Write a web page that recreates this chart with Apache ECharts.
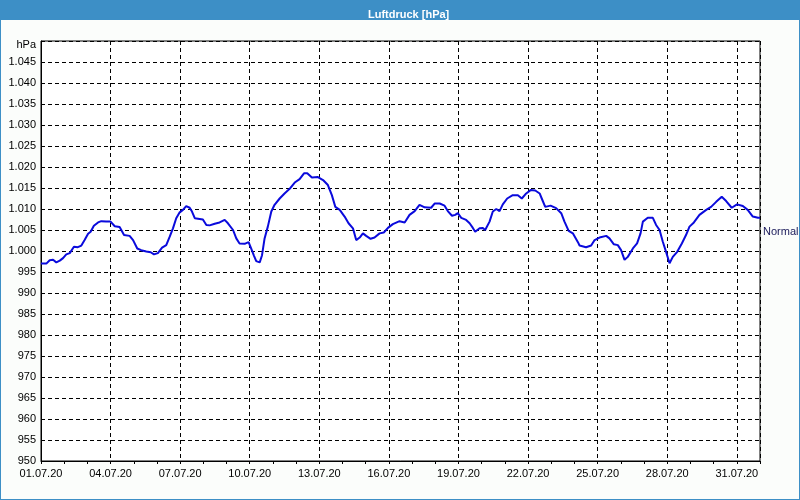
<!DOCTYPE html>
<html>
<head>
<meta charset="utf-8">
<script src="https://cdn.jsdelivr.net/npm/echarts@6/dist/echarts.min.js"></script>
<style>
  html, body { margin: 0; padding: 0; background: #ffffff; }
  #wrap { width: 800px; height: 500px; box-sizing: border-box; border: 1px solid #3d8fc6; background: #fbfdfb; }
  #chart { width: 798px; height: 498px; }
</style>
</head>
<body>
<div id="wrap"><div id="chart"></div></div>
<script>
// Day offset since 01.07.20 00:00
const days = [0, 0.23, 0.375, 0.52, 0.66, 0.81, 0.95, 1.09, 1.24, 1.42, 1.59, 1.74, 1.88, 2.03, 2.14, 2.28, 2.46, 2.60, 2.81, 3.00,
  3.18, 3.39, 3.58, 3.82, 3.97, 4.15, 4.32, 4.54, 4.73, 4.87, 5.04, 5.22, 5.40, 5.55, 5.69, 5.83, 5.98, 6.12, 6.26, 6.41,
  6.51, 6.63, 6.77, 6.98, 7.13, 7.27, 7.49, 7.70, 7.92, 8.06, 8.28, 8.42, 8.56, 8.78, 8.95, 9.06, 9.18, 9.28, 9.43, 9.53,
  9.64, 9.78, 9.93, 10.07, 10.29, 10.50, 10.72, 10.94, 11.15, 11.34, 11.48, 11.68, 11.94, 12.16, 12.37, 12.54, 12.69, 12.88, 13.09, 13.26,
  13.45, 13.59, 13.74, 13.88, 14.02, 14.21, 14.38, 14.60, 14.78, 14.96, 15.17, 15.46, 15.68, 15.89, 16.11, 16.32, 16.54, 16.82, 16.97, 17.19,
  17.40, 17.54, 17.72, 17.86, 17.97, 18.12, 18.33, 18.48, 18.62, 18.72, 18.91, 19.05, 19.15, 19.34, 19.48, 19.63, 19.77, 19.91, 20.10, 20.34,
  20.56, 20.73, 20.92, 21.11, 21.31, 21.50, 21.59, 21.74, 21.97, 22.21, 22.43, 22.57, 22.75, 22.93, 23.15, 23.22, 23.29, 23.50, 23.72, 23.87,
  24.08, 24.37, 24.51, 24.70, 24.87, 25.01, 25.16, 25.30, 25.52, 25.70, 25.85, 25.95, 26.16, 26.38, 26.52, 26.67, 26.81, 26.95, 27.10, 27.24,
  27.43, 27.63, 27.81, 27.96, 28.15, 28.39, 28.68, 28.89, 29.11, 29.35, 29.54, 29.78, 30.01, 30.26, 30.47, 30.69, 30.91, 31.0];
// Air pressure, hPa
const pressure = [997.0, 997.0, 997.8, 997.9, 997.3, 997.7, 998.3, 999.2, 999.5, 1001.0, 1000.9, 1001.3, 1002.6, 1004.1, 1004.6, 1006.0, 1006.8, 1007.1, 1007.0, 1007.0,
  1005.9, 1005.7, 1003.8, 1003.6, 1002.6, 1000.6, 1000.2, 999.9, 999.7, 999.2, 999.5, 1000.8, 1001.4, 1003.4, 1005.4, 1007.8, 1009.2, 1009.8, 1010.7, 1010.3,
  1009.4, 1007.8, 1007.7, 1007.5, 1006.2, 1006.1, 1006.5, 1006.8, 1007.4, 1006.6, 1005.0, 1003.0, 1001.8, 1001.7, 1002.1, 1000.6, 998.9, 997.6, 997.3, 999.0,
  1003.0, 1005.8, 1009.4, 1011.0, 1012.5, 1013.7, 1014.8, 1016.3, 1017.1, 1018.5, 1018.5, 1017.5, 1017.6, 1016.9, 1015.7, 1013.3, 1010.5, 1009.8, 1008.2, 1006.6,
  1005.4, 1002.6, 1003.2, 1004.2, 1003.6, 1002.9, 1003.2, 1004.2, 1004.4, 1005.5, 1006.4, 1007.1, 1006.8, 1008.6, 1009.5, 1011.0, 1010.4, 1010.3, 1011.3, 1011.3,
  1010.8, 1009.5, 1008.4, 1008.6, 1009.0, 1007.9, 1007.4, 1006.6, 1005.5, 1004.6, 1005.4, 1005.5, 1005.0, 1007.0, 1009.4, 1010.0, 1009.5, 1011.1, 1012.5, 1013.3,
  1013.3, 1012.5, 1013.7, 1014.5, 1014.4, 1013.7, 1012.5, 1010.5, 1010.8, 1010.2, 1009.0, 1007.0, 1004.8, 1004.2, 1002.1, 1001.3, 1001.0, 1000.9, 1001.3, 1002.6,
  1003.2, 1003.6, 1003.0, 1001.6, 1001.4, 1000.2, 997.9, 998.6, 1000.6, 1001.8, 1004.2, 1007.0, 1007.9, 1007.9, 1006.2, 1005.0, 1002.2, 999.8, 997.1, 998.6,
  999.8, 1001.8, 1003.8, 1005.8, 1006.8, 1008.6, 1009.8, 1010.5, 1011.7, 1012.9, 1011.9, 1010.3, 1011.1, 1010.7, 1009.8, 1008.2, 1007.9, 1007.9];
const normalValue = 1004.5;
const titleText = 'Luftdruck [hPa]';
const unitLabel = 'hPa';
const normalLabel = 'Normal';

const font = 'Liberation Sans';
const chart = echarts.init(document.getElementById('chart'), null, { renderer: 'canvas' });
const seriesData = days.map((d, i) => [d, pressure[i]]);

function fmtDate(v) {
  if (v > 30.5) return '';
  const d = Math.round(v) + 1;
  return (d < 10 ? '0' + d : '' + d) + '.07.20';
}
function fmtP(v) {
  if (v >= 1050) return '{u|' + unitLabel + '}';
  if (v >= 1000) { const r = Math.round(v - 1000); return '1.' + String(r).padStart(3, '0'); }
  return String(Math.round(v));
}

chart.setOption({
  animation: false,
  backgroundColor: '#fbfdfb',
  title: {
    text: titleText, left: 362, top: 3,
    textStyle: { color: '#ffffff', fontFamily: font, fontSize: 11, fontWeight: 'bold' }
  },
  graphic: [{
    type: 'rect', left: 0, top: 0, z: -1,
    shape: { width: 798, height: 19 },
    style: { fill: '#3d8fc6' }
  }],
  grid: { left: 40, top: 40, right: 39, bottom: 38, show: true, backgroundColor: '#ffffff', borderColor: '#000', borderWidth: 1 },
  xAxis: [{
    type: 'value', min: 0, max: 31, interval: 3,
    axisLine: { show: true, lineStyle: { color: '#000', width: 1 } },
    axisTick: { show: true, length: 3, lineStyle: { color: '#000' } },
    axisLabel: { formatter: fmtDate, color: '#000', fontFamily: font, fontSize: 11, margin: 7, showMaxLabel: false },
    splitLine: { show: true, lineStyle: { color: '#000', type: [4, 3], width: 1 } }
  }, {
    type: 'value', min: 0, max: 31, interval: 1, position: 'bottom',
    axisLine: { show: false },
    axisTick: { show: true, length: 3, lineStyle: { color: '#000' } },
    axisLabel: { show: false },
    splitLine: { show: false }
  }],
  yAxis: {
    type: 'value', min: 950, max: 1050, interval: 5,
    axisLine: { show: true, lineStyle: { color: '#000', width: 1 } },
    axisTick: { show: false },
    axisLabel: {
      formatter: fmtP, color: '#000', fontFamily: font, fontSize: 11, margin: 5,
      rich: { u: { color: '#000', fontFamily: font, fontSize: 11, padding: [8, 0, 0, 0] } }
    },
    splitLine: { show: true, lineStyle: { color: '#000', type: [4, 3], width: 1 } }
  },
  series: [{
    type: 'line', xAxisIndex: 0, data: seriesData, showSymbol: false, clip: false,
    lineStyle: { color: '#0a0adc', width: 2 },
    markLine: {
      silent: true, symbol: 'none', animation: false,
      lineStyle: { color: 'rgba(0,0,0,0)', width: 1, type: 'solid' },
      label: { show: true, position: 'end', formatter: normalLabel, color: '#1a1a5a', fontFamily: font, fontSize: 11, distance: 3 },
      data: [{ yAxis: normalValue }]
    }
  }]
});
</script>
</body>
</html>
